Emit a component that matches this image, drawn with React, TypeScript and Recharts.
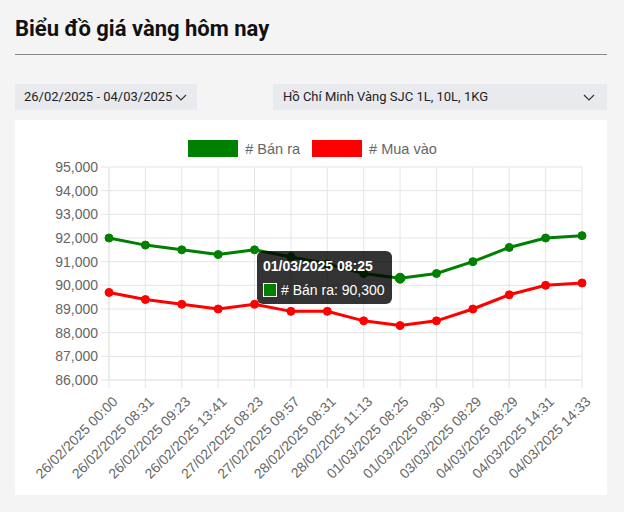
import React from 'react'
import {
  LineChart, Line, XAxis, YAxis, Tooltip, CartesianGrid, Legend,
} from 'recharts'

const labels = [
  '26/02/2025 00:00', '26/02/2025 08:31', '26/02/2025 09:23', '26/02/2025 13:41',
  '27/02/2025 08:23', '27/02/2025 09:57', '28/02/2025 08:31', '28/02/2025 11:13',
  '01/03/2025 08:25', '01/03/2025 08:30', '03/03/2025 08:29', '04/03/2025 08:29',
  '04/03/2025 14:31', '04/03/2025 14:33',
]
const sellPrices = [92000, 91700, 91500, 91300, 91500, 91200, 90900, 90500, 90300, 90500, 91000, 91600, 92000, 92100]
const buyPrices  = [89700, 89400, 89200, 89000, 89200, 88900, 88900, 88500, 88300, 88500, 89000, 89600, 90000, 90100]
const yTicks = [86000, 87000, 88000, 89000, 90000, 91000, 92000, 93000, 94000, 95000]

const data = labels.map((label, i) => ({ label, sell: sellPrices[i], buy: buyPrices[i] }))

const fmt = (v: number) => v.toLocaleString('en-US')
const chartFont = '"Liberation Sans", Arial, sans-serif'

function XTick({ x, y, payload }: any) {
  return (
    <g transform={`translate(${x + 6},${y + 9})`}>
      <text transform="rotate(-45)" textAnchor="end" dy="0.35em" fontSize={14} fill="#666" style={{ fontFamily: chartFont }}>
        {payload.value}
      </text>
    </g>
  )
}

function YTick({ x, y, payload }: any) {
  return (
    <text x={x} y={y} dy="0.35em" textAnchor="end" fontSize={14} fill="#666" style={{ fontFamily: chartFont }}>
      {fmt(payload.value)}
    </text>
  )
}

function LegendBox() {
  const item = (color: string, text: string) => (
    <div style={{ display: 'flex', alignItems: 'center', marginRight: 12 }}>
      <div style={{ width: 50, height: 17, background: color, marginRight: 7 }} />
      <span style={{ fontSize: 14.5, color: '#666', fontFamily: chartFont }}>{text}</span>
    </div>
  )
  return (
    <div style={{ display: 'flex', justifyContent: 'center', paddingLeft: 40 }}>
      {item('#008000', '# Bán ra')}
      {item('#ff0000', '# Mua vào')}
    </div>
  )
}

function TipBox({ active, payload, label }: any) {
  if (!active || !payload) return null
  const p = payload.find((d: any) => d.dataKey === 'sell')
  if (!p) return null
  return (
    <div style={{
      background: 'rgba(0,0,0,0.8)', borderRadius: 6, color: '#fff',
      padding: '7px 6px 6px 6px', fontFamily: chartFont, fontSize: 14, width: 123,
    }}>
      <div style={{ fontWeight: 'bold', marginBottom: 8 }}>{label}</div>
      <div style={{ display: 'flex', alignItems: 'center' }}>
        <span style={{
          width: 12, height: 12, background: '#008000', border: '1px solid #fff',
          display: 'inline-block', marginRight: 4,
        }} />
        # Bán ra: {fmt(p.value)}
      </div>
    </div>
  )
}

function Chevron({ left }: { left: number }) {
  return (
    <svg width={12} height={8} style={{ position: 'absolute', left, top: 10 }}>
      <polyline points="1,1 6,6 11,1" fill="none" stroke="#333" strokeWidth={1.2} />
    </svg>
  )
}

export default function App() {
  return (
    <div style={{
      position: 'absolute', left: 0, top: 0, width: 624, height: 512,
      background: '#f4f4f4', fontFamily: 'Roboto, sans-serif', overflow: 'hidden',
    }}>
      <div style={{ position: 'absolute', left: 15, top: 16, fontSize: 22, fontWeight: 'bold', color: '#111' }}>
        Biểu đồ giá vàng hôm nay
      </div>
      <div style={{ position: 'absolute', left: 15, top: 54, width: 592, height: 1, background: '#888' }} />

      <div style={{ position: 'absolute', left: 15, top: 84, width: 182, height: 26, background: '#e9eaee' }}>
        <span style={{ position: 'absolute', left: 9, top: 5, fontSize: 13, color: '#222' }}>26/02/2025 - 04/03/2025</span>
        <Chevron left={160} />
      </div>
      <div style={{ position: 'absolute', left: 273, top: 84, width: 334, height: 26, background: '#e9eaee' }}>
        <span style={{ position: 'absolute', left: 10, top: 5, fontSize: 13, color: '#222' }}>Hồ Chí Minh Vàng SJC 1L, 10L, 1KG</span>
        <Chevron left={310} />
      </div>

      <div style={{ position: 'absolute', left: 15, top: 120, width: 592, height: 375, background: '#fff' }}>
        <LineChart width={592} height={375} data={data} margin={{ top: 30, right: 25, bottom: 0, left: 0 }}>
          <CartesianGrid stroke="#e5e5e5" strokeWidth={1} />
          <XAxis
            dataKey="label"
            interval={0}
            tick={<XTick />}
            tickSize={8}
            tickLine={{ stroke: '#e5e5e5' }}
            axisLine={{ stroke: '#e5e5e5' }}
            height={115}
          />
          <YAxis
            domain={[86000, 95000]}
            ticks={yTicks}
            interval={0}
            width={94}
            tickSize={8}
            tickMargin={3}
            tick={<YTick />}
            tickLine={{ stroke: '#e5e5e5' }}
            axisLine={{ stroke: '#e5e5e5' }}
          />
          <Legend verticalAlign="top" content={<LegendBox />} wrapperStyle={{ top: 20 }} />
          <Tooltip
            defaultIndex={8}
            cursor={false}
            content={<TipBox />}
            isAnimationActive={false}
            position={{ x: 242, y: 131 }}
          />
          <Line
            type="linear" dataKey="buy" stroke="#ff0000" strokeWidth={3}
            dot={{ r: 4, fill: '#ff0000', stroke: '#ff0000', strokeWidth: 1 }}
            activeDot={false} isAnimationActive={false}
          />
          <Line
            type="linear" dataKey="sell" stroke="#008000" strokeWidth={3}
            dot={{ r: 4, fill: '#008000', stroke: '#008000', strokeWidth: 1 }}
            activeDot={{ r: 5, fill: '#008000', stroke: '#008000', strokeWidth: 1 }}
            isAnimationActive={false}
          />
        </LineChart>
      </div>
    </div>
  )
}
